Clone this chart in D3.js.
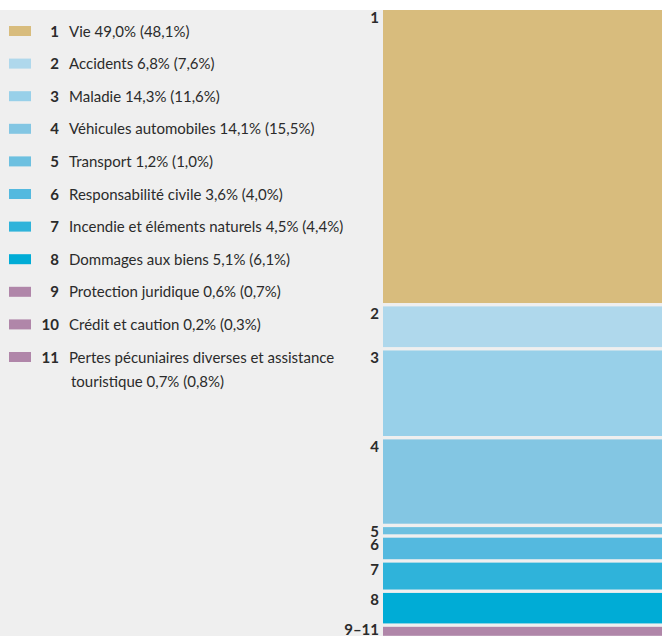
<!DOCTYPE html>
<html>
<head>
<meta charset="utf-8">
<script src="https://cdn.jsdelivr.net/npm/d3@7"></script>
<style>
  html, body { margin: 0; padding: 0; background: #fff; }
  svg { display: block; font-family: Lato, "Open Sans", sans-serif; }
</style>
</head>
<body>
<svg id="chart" width="662" height="636"></svg>
<script>
// branches: number, label, share this year, (share previous year)
const codes = ["1", "2", "3", "4", "5", "6", "7", "8", "9", "10", "11"];
const names = ["Vie", "Accidents", "Maladie", "Véhicules automobiles", "Transport",
               "Responsabilité civile", "Incendie et éléments naturels", "Dommages aux biens",
               "Protection juridique", "Crédit et caution",
               "Pertes pécuniaires diverses et assistance touristique"];
const shares = [49.0, 6.8, 14.3, 14.1, 1.2, 3.6, 4.5, 5.1, 0.6, 0.2, 0.7];
const sharesPrev = [48.1, 7.6, 11.6, 15.5, 1.0, 4.0, 4.4, 6.1, 0.7, 0.3, 0.8];
const colors = ["#d8bc7d", "#afd8ec", "#98d0e9", "#83c6e3", "#6dc0e0", "#54b9df",
                "#2fb3da", "#00acd6", "#b086a9", "#b086a9", "#b086a9"];

// the bar merges 9 to 11 into one block
const barLabels = ["1", "2", "3", "4", "5", "6", "7", "8", "9–11"];
const barMembers = [[0], [1], [2], [3], [4], [5], [6], [7], [8, 9, 10]];

const fmt = v => v.toFixed(1).replace(".", ",") + "%";

const width = 662, height = 636;
const svg = d3.select("#chart");

svg.append("rect")
   .attr("x", 0).attr("y", 10)
   .attr("width", width).attr("height", height - 10)
   .attr("fill", "#efefef");

// ---- stacked bar ----
const gap = 3.4;
const barTop = 10, barLeft = 383;
const segments = barMembers.map((m, i) => ({
    label: barLabels[i],
    value: d3.sum(m, j => shares[j]),
    color: colors[m[0]]
}));
let cum = 0;
segments.forEach(s => { s.start = cum; cum += s.value; });

const y = d3.scaleLinear()
            .domain([0, 100])
            .range([barTop, barTop + 598]);

segments.forEach((s, i) => { s.top = y(s.start) + i * gap; });

// label baselines: near segment top, pushed up so neighbours don't collide
segments.forEach(s => { s.base = s.top + 12.5; });
segments[segments.length - 1].base = Math.min(segments[segments.length - 1].base, height - 1);
for (let i = segments.length - 2; i >= 0; i--) {
    segments[i].base = Math.min(segments[i].base, segments[i + 1].base - 13);
}

const bar = svg.append("g").attr("class", "bar");

bar.selectAll("rect")
   .data(segments)
   .join("rect")
      .attr("x", barLeft)
      .attr("width", width - barLeft)
      .attr("y", d => d.top)
      .attr("height", d => y(d.start + d.value) - y(d.start))
      .attr("fill", d => d.color);

bar.selectAll("text")
   .data(segments)
   .join("text")
      .attr("x", barLeft - 4)
      .attr("y", d => d.base)
      .attr("text-anchor", "end")
      .style("font-size", "15px")
      .style("font-weight", "bold")
      .style("fill", "#2b2b2b")
      .text(d => d.label);

// ---- legend ----
const rowStep = 32.6, rowTop = 31;
const legend = svg.append("g").attr("class", "legend");

const rows = legend.selectAll("g")
   .data(codes.map((c, i) => ({code: c, name: names[i], v: shares[i], p: sharesPrev[i], color: colors[i]})))
   .join("g")
      .attr("transform", (d, i) => `translate(0,${rowTop + i * rowStep})`);

rows.append("rect")
    .attr("x", 9).attr("y", -5)
    .attr("width", 22).attr("height", 10)
    .attr("fill", d => d.color);

rows.append("text")
    .attr("x", 59).attr("y", 5.5)
    .attr("text-anchor", "end")
    .style("font-size", "15px")
    .style("font-weight", "bold")
    .style("fill", "#2b2b2b")
    .text(d => d.code);

// item 11 wraps after "assistance"
rows.append("text")
    .attr("x", 69).attr("y", 5.5)
    .style("font-size", "15px")
    .style("fill", "#2b2b2b")
    .each(function (d) {
        const full = `${d.name} ${fmt(d.v)} (${fmt(d.p)})`;
        const lines = d.code === "11"
            ? ["Pertes pécuniaires diverses et assistance", full.replace("Pertes pécuniaires diverses et assistance ", "")]
            : [full];
        d3.select(this).selectAll("tspan")
          .data(lines)
          .join("tspan")
            .attr("x", (l, k) => k === 0 ? 69 : 71)
            .attr("dy", (l, k) => k === 0 ? 0 : 24)
            .text(l => l);
    });
</script>
</body>
</html>
